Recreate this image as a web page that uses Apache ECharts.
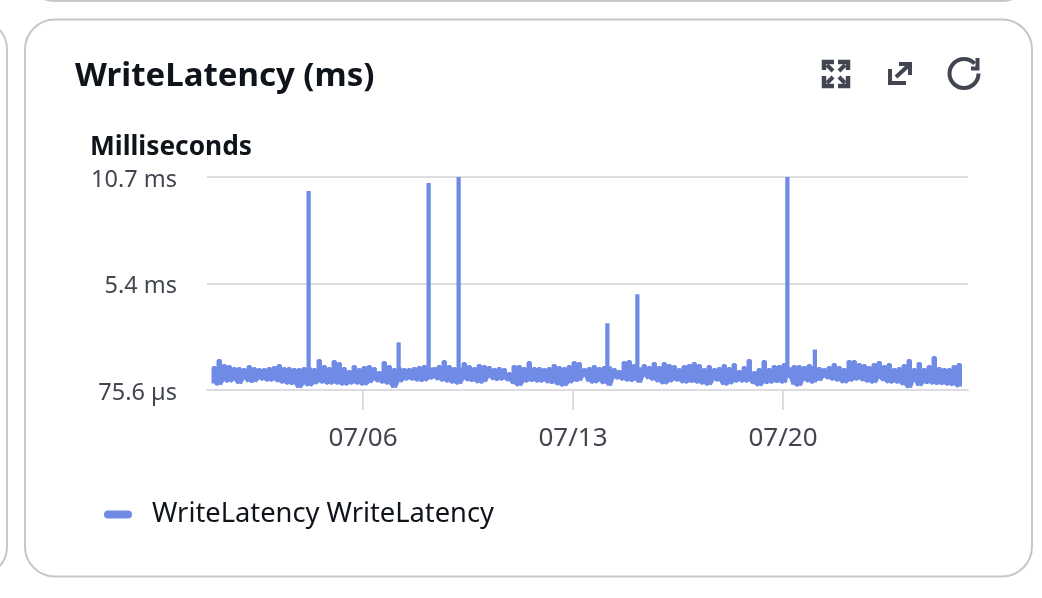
<!DOCTYPE html>
<html>
<head>
<meta charset="utf-8">
<style>html,body{margin:0;padding:0;background:#fff}#c{width:1042px;height:598px}</style>
<script src="https://cdn.jsdelivr.net/npm/echarts@6/dist/echarts.min.js"></script>
</head>
<body>
<div id="c"></div>
<script>
var chartTitle = 'WriteLatency (ms)';
var unitTitle = 'Milliseconds';
var seriesName = 'WriteLatency WriteLatency';
var startTime = '2024-07-01T00:00:00Z';
var xTickDates = ['2024-07-06T00:00:00Z', '2024-07-13T00:00:00Z', '2024-07-20T00:00:00Z'];
var xTickLabels = ['07/06', '07/13', '07/20'];
var yTickValues = [0.0756, 5.4, 10.7];
var yTickLabels = ['75.6 µs', '5.4 ms', '10.7 ms'];
// Readings every four hours, in ms: top and bottom of the noise band
var bandHigh = [1.20,1.55,1.30,1.25,1.15,1.15,1.10,1.25,1.15,1.10,1.10,1.15,1.20,1.30,1.15,1.15,1.10,1.10,1.15,1.20,
1.10,1.55,1.25,1.15,1.50,1.40,1.15,1.00,1.25,1.10,1.20,1.25,1.15,0.95,1.45,1.25,1.10,1.20,1.10,1.10,
1.15,1.20,1.25,1.20,1.15,1.25,1.50,1.25,1.15,1.20,1.40,1.25,1.15,1.30,1.25,1.20,1.10,1.15,1.10,0.90,
1.25,1.25,1.15,1.45,1.15,1.15,1.10,1.15,1.30,1.20,1.15,1.25,1.45,1.40,1.10,1.15,1.25,1.15,1.20,1.25,
1.10,1.00,1.45,1.50,1.30,1.20,1.30,1.20,1.40,1.20,1.40,1.30,1.25,1.10,1.25,1.30,1.40,1.30,1.10,1.25,
1.10,1.15,1.30,1.15,1.35,1.00,1.20,1.55,0.95,1.10,1.50,1.10,1.25,1.25,1.35,1.20,1.25,1.25,1.20,1.30,
1.25,1.15,1.10,1.20,1.35,1.20,1.10,1.50,1.50,1.35,1.30,1.20,1.35,1.45,1.25,1.35,1.10,1.15,1.30,1.55,
1.10,1.40,1.10,1.25,1.70,1.15,1.10,1.10,1.25,1.35];
var bandLow = [.40,.35,.55,.50,.60,.40,.65,.50,.50,.65,.60,.55,.60,.50,.45,.40,.40,.20,.40,.30,
.40,.50,.45,.40,.45,.40,.35,.40,.45,.40,.35,.45,.60,.50,.45,.40,.20,.50,.60,.65,
.60,.55,.55,.65,.70,.60,.55,.50,.45,.40,.65,.55,.55,.45,.50,.75,.60,.60,.65,.55,
.40,.30,.50,.55,.55,.50,.55,.45,.45,.35,.30,.45,.55,.55,.80,.50,.45,.55,.40,.30,
.70,.65,.60,.55,.55,.45,.80,.65,.60,.50,.40,.50,.60,.55,.45,.50,.50,.45,.40,.35,
.60,.55,.35,.40,.50,.55,.50,.55,.40,.30,.45,.45,.50,.50,.45,.70,.35,.30,.60,.50,
.45,.55,.75,.65,.60,.55,.45,.55,.60,.65,.55,.50,.45,.70,.55,.45,.50,.45,.35,.20,
.55,.30,.45,.45,.40,.40,.40,.35,.35,.25];
// Isolated spikes above the band
var spikeDates = ['2024-07-04T04:00:00Z','2024-07-07T04:00:00Z','2024-07-08T04:00:00Z','2024-07-09T04:00:00Z','2024-07-14T03:00:00Z','2024-07-15T03:00:00Z','2024-07-20T03:00:00Z','2024-07-21T01:00:00Z'];
var spikeValues = [10.0, 2.45, 10.4, 10.7, 3.4, 4.85, 10.7, 2.1];
var spikeBase = [0.8, 0.8, 0.8, 0.8, 0.8, 0.8, 0.8, 0.8];

var HOUR = 3600000;
var t0 = Date.parse(startTime);
var points = [];
bandHigh.forEach(function (h, i) {
  var t = t0 + i * 4 * HOUR, l = bandLow[i];
  points.push([t, l], [t, h], [t + 2 * HOUR, h], [t + 2 * HOUR, l]);
});
spikeDates.forEach(function (d, i) {
  var t = Date.parse(d), t2 = t + HOUR, b = spikeBase[i], v = spikeValues[i];
  points.push([t, b], [t, v], [t, b], [t2, b], [t2, v], [t2, b]);
});
points = points.map(function (p, i) { return [p[0], p[1], i]; })
  .sort(function (a, b) { return a[0] - b[0] || a[2] - b[2]; })
  .map(function (p) { return [p[0], p[1]]; });

var xTicks = xTickDates.map(function (d) { return Date.parse(d); });
var INK = '#0f141a', SOFT = '#424650', GRID = '#dcdce1', BORDER = '#c6c6cd', LINE = '#6f8be6';
var UI = '"Noto Sans", "Open Sans", sans-serif';

function stroke(w) { return { fill: 'none', stroke: SOFT, lineWidth: w }; }
function pl(points, w) { return { type: 'polyline', shape: { points: points }, style: stroke(w) }; }
var box = function (x, y, w, h) {
  return { type: 'rect', shape: { x: x, y: y, width: w, height: h, r: 30 }, style: { fill: 'none', stroke: BORDER, lineWidth: 2 } };
};

var chart = echarts.init(document.getElementById('c'), null, { renderer: 'canvas' });
chart.setOption({
  animation: false,
  backgroundColor: '#fff',
  title: [
    { text: chartTitle, left: 75, top: 60, padding: 0, textStyle: { fontFamily: UI, fontSize: 33, fontWeight: 700, color: INK } },
    { text: unitTitle, left: 90, top: 135, padding: 0, textStyle: { fontFamily: UI, fontSize: 26.3, fontWeight: 700, color: INK } }
  ],
  legend: {
    left: 104, top: 501, padding: 0, selectedMode: false,
    icon: 'path://M4 0H24A4 4 0 0 1 24 8H4A4 4 0 0 1 4 0Z', itemWidth: 28, itemHeight: 8, itemGap: 10,
    data: [seriesName],
    textStyle: { fontFamily: UI, fontSize: 27.3, color: INK, padding: [0, 0, 0, 15] }
  },
  grid: { left: 207, right: 74, top: 177, bottom: 208, containLabel: false },
  xAxis: {
    type: 'value', scale: true,
    min: Date.parse('2024-06-30T19:12:00Z'), max: Date.parse('2024-07-26T04:00:00Z'),
    axisLine: { lineStyle: { color: GRID, width: 2 } },
    axisTick: { show: true, length: 20, customValues: xTicks, lineStyle: { color: GRID, width: 2 } },
    splitLine: { show: false },
    axisLabel: {
      customValues: xTicks, margin: 36, fontFamily: UI, fontSize: 26, color: SOFT, hideOverlap: false,
      formatter: function (v) { return xTickLabels[xTicks.indexOf(v)] || ''; }
    }
  },
  yAxis: {
    type: 'value', min: yTickValues[0], max: yTickValues[2],
    axisLine: { show: false },
    axisTick: { show: false, customValues: yTickValues },
    splitLine: { show: true, lineStyle: { color: GRID, width: 2 } },
    axisLabel: {
      customValues: yTickValues, margin: 30,
      formatter: function (v) { return '{t|' + (yTickLabels[yTickValues.indexOf(v)] || '') + '}'; },
      rich: { t: { fontFamily: UI, fontSize: 23.5, color: SOFT, padding: [6, 0, 0, 0] } }
    }
  },
  series: [{
    name: seriesName, type: 'line', data: points, showSymbol: false, symbol: 'none',
    clip: true, sampling: null,
    lineStyle: { color: LINE, width: 3, join: 'bevel' }, itemStyle: { color: LINE }
  }],
  graphic: { elements: [
    box(25, 19.5, 1007, 557),
    box(-100, 19.5, 107, 557),
    box(25, -300, 1007, 301),
    pl([[824,70],[824,62],[834,62]],4.5), pl([[827,65],[833,71]],4),
    pl([[838,62],[848,62],[848,70]],4.5), pl([[845,65],[839,71]],4),
    pl([[824,76],[824,86],[834,86]],4.5), pl([[827,83],[833,77]],4),
    pl([[838,86],[848,86],[848,76]],4.5), pl([[845,83],[839,77]],4),
    pl([[906,83],[890,83],[890,69]],4), pl([[899,64],[910,64],[910,75]],4), pl([[896,77],[909,65]],4),
    { type: 'arc', shape: { cx: 964, cy: 73.5, r: 14.5, startAngle: 0, endAngle: Math.PI * 2 - 0.75, clockwise: true }, style: stroke(4) },
    pl([[977.5,58],[977.5,68.5],[971,68.5]],4)
  ] }
});
</script>
</body>
</html>
